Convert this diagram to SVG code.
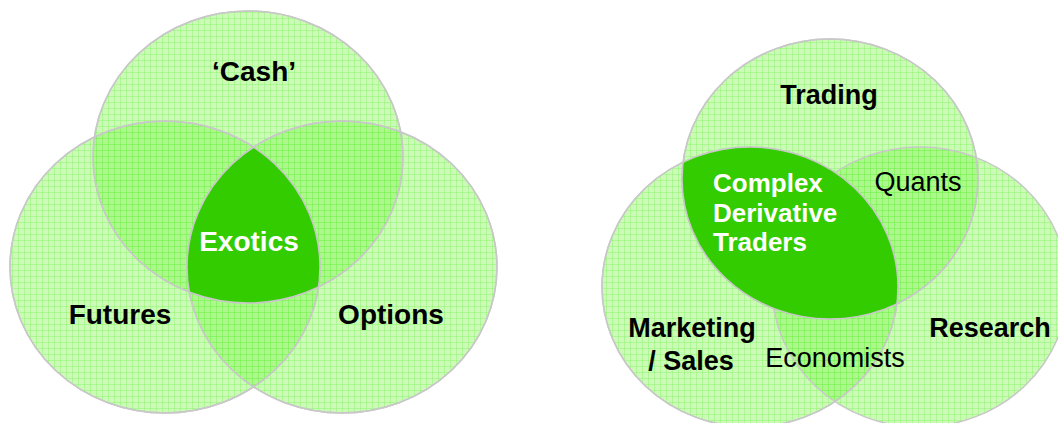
<svg xmlns="http://www.w3.org/2000/svg" width="1058" height="423" viewBox="0 0 1058 423">
  <style>
    .set { fill: rgb(125,245,75); fill-opacity: 0.4; }
    .mesh { fill: url(#grid); }
    .rim { fill: none; stroke: #c8c8c8; stroke-width: 1.5; }
    .core { fill: #33cc00; }
    .lbl { font-family: "Liberation Sans", Arial, sans-serif; font-weight: bold; fill: #000; text-anchor: middle; }
    .reg { font-family: "Liberation Sans", Arial, sans-serif; font-weight: normal; fill: #000; text-anchor: middle; }
    .inv { font-family: "Liberation Sans", Arial, sans-serif; font-weight: bold; fill: #fff; }
  </style>
  <defs>
    <!-- fine graph-paper texture laid over every set -->
    <pattern id="grid" width="6" height="6" patternUnits="userSpaceOnUse">
      <path d="M0.5 0V6M0 0.5H6" stroke="rgb(100,235,60)" stroke-opacity="0.28" stroke-width="1" fill="none"/>
    </pattern>
    <clipPath id="clipFutures"><ellipse cx="165" cy="267" rx="155" ry="146"/></clipPath>
    <clipPath id="clipOptions"><ellipse cx="342" cy="267" rx="155" ry="146"/></clipPath>
    <clipPath id="clipMarketing"><ellipse cx="750" cy="287" rx="148" ry="140"/></clipPath>
  </defs>

  <!-- left: product sets -->
  <g id="cash">
    <ellipse class="set" cx="248" cy="157" rx="155" ry="146"/>
    <ellipse class="mesh" cx="248" cy="157" rx="155" ry="146"/>
  </g>
  <g id="futures">
    <ellipse class="set" cx="165" cy="267" rx="155" ry="146"/>
    <ellipse class="mesh" cx="165" cy="267" rx="155" ry="146"/>
  </g>
  <g id="options">
    <ellipse class="set" cx="342" cy="267" rx="155" ry="146"/>
    <ellipse class="mesh" cx="342" cy="267" rx="155" ry="146"/>
  </g>
  <g id="left-rims">
    <ellipse class="rim" cx="248" cy="157" rx="155" ry="146"/>
    <ellipse class="rim" cx="165" cy="267" rx="155" ry="146"/>
    <ellipse class="rim" cx="342" cy="267" rx="155" ry="146"/>
  </g>
  <g id="exotics">
    <g clip-path="url(#clipFutures)">
      <g clip-path="url(#clipOptions)">
        <ellipse class="core" cx="248" cy="157" rx="155" ry="146"/>
      </g>
    </g>
    <ellipse class="rim" cx="248" cy="157" rx="155" ry="146"/>
    <ellipse class="rim" cx="165" cy="267" rx="155" ry="146"/>
    <ellipse class="rim" cx="342" cy="267" rx="155" ry="146"/>
  </g>
  <g id="left-labels">
    <text class="lbl" x="254" y="81" font-size="28">‘Cash’</text>
    <text class="lbl" x="120" y="324" font-size="28">Futures</text>
    <text class="lbl" x="391" y="324" font-size="28">Options</text>
    <text class="lbl" x="249" y="251" font-size="28" style="fill:#fff">Exotics</text>
  </g>

  <!-- right: desk roles -->
  <g id="trading">
    <ellipse class="set" cx="830" cy="179" rx="148" ry="140"/>
    <ellipse class="mesh" cx="830" cy="179" rx="148" ry="140"/>
  </g>
  <g id="marketing-sales">
    <ellipse class="set" cx="750" cy="287" rx="148" ry="140"/>
    <ellipse class="mesh" cx="750" cy="287" rx="148" ry="140"/>
  </g>
  <g id="research">
    <ellipse class="set" cx="920" cy="287" rx="148" ry="140"/>
    <ellipse class="mesh" cx="920" cy="287" rx="148" ry="140"/>
  </g>
  <g id="right-rims">
    <ellipse class="rim" cx="830" cy="179" rx="148" ry="140"/>
    <ellipse class="rim" cx="750" cy="287" rx="148" ry="140"/>
    <ellipse class="rim" cx="920" cy="287" rx="148" ry="140"/>
  </g>
  <g id="complex-derivative-traders">
    <g clip-path="url(#clipMarketing)">
      <ellipse class="core" cx="830" cy="179" rx="148" ry="140"/>
    </g>
    <ellipse class="rim" cx="830" cy="179" rx="148" ry="140"/>
    <ellipse class="rim" cx="750" cy="287" rx="148" ry="140"/>
  </g>
  <g id="right-labels">
    <text class="lbl" x="829" y="104" font-size="27">Trading</text>
    <text class="inv" x="713" y="192" font-size="26">Complex</text>
    <text class="inv" x="713" y="222" font-size="26">Derivative</text>
    <text class="inv" x="713" y="251" font-size="26">Traders</text>
    <text class="reg" x="918" y="191" font-size="27">Quants</text>
    <text class="lbl" x="692" y="337" font-size="27">Marketing</text>
    <text class="lbl" x="691" y="370" font-size="27">/ Sales</text>
    <text class="lbl" x="990" y="337" font-size="27">Research</text>
    <text class="reg" x="835" y="367" font-size="27">Economists</text>
  </g>
</svg>
